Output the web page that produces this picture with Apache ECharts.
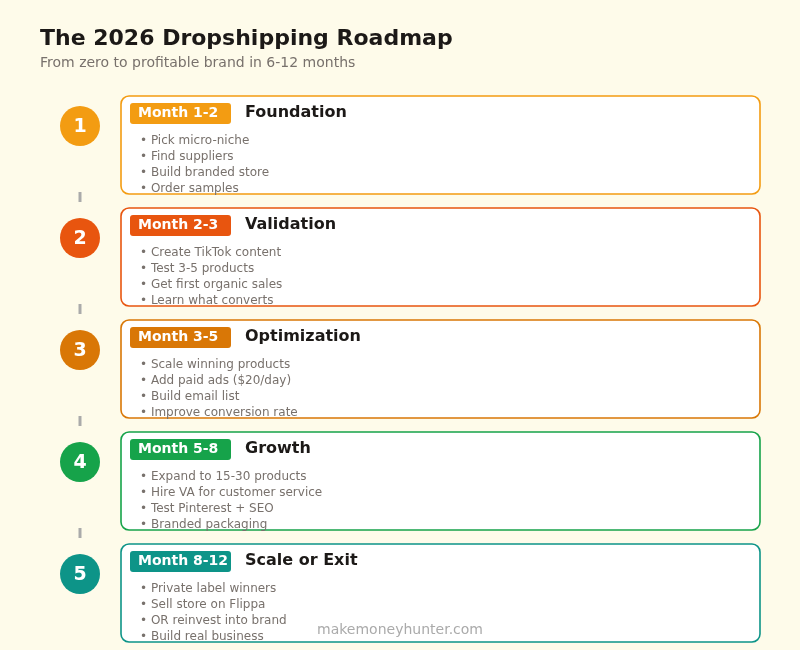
<!DOCTYPE html>
<html>
<head>
<meta charset="utf-8">
<script src="https://cdn.jsdelivr.net/npm/echarts@6/dist/echarts.min.js"></script>
<style>html,body{margin:0;padding:0;background:#fefbea}#main{width:800px;height:650px}</style>
</head>
<body>
<div id="main"></div>
<script>
var steps = ['1', '2', '3', '4', '5'];
var months = ['Month 1-2', 'Month 2-3', 'Month 3-5', 'Month 5-8', 'Month 8-12'];
var titles = ['Foundation', 'Validation', 'Optimization', 'Growth', 'Scale or Exit'];
var bullets = [
  ['Pick micro-niche', 'Find suppliers', 'Build branded store', 'Order samples'],
  ['Create TikTok content', 'Test 3-5 products', 'Get first organic sales', 'Learn what converts'],
  ['Scale winning products', 'Add paid ads ($20/day)', 'Build email list', 'Improve conversion rate'],
  ['Expand to 15-30 products', 'Hire VA for customer service', 'Test Pinterest + SEO', 'Branded packaging'],
  ['Private label winners', 'Sell store on Flippa', 'OR reinvest into brand', 'Build real business']
];
var colors = ['#f39c12', '#e8550f', '#d97706', '#16a34a', '#0d9488'];

var font = 'DejaVu Sans';
var myChart = echarts.init(document.getElementById('main'));
var els = [
  { type: 'text', x: 40, y: 39, style: { text: 'The 2026 Dropshipping Roadmap', font: 'bold 22px ' + font, fill: '#1c1917', verticalAlign: 'middle' } },
  { type: 'text', x: 40, y: 63, style: { text: 'From zero to profitable brand in 6-12 months', font: '14px ' + font, fill: '#78716c', verticalAlign: 'middle' } }
];
steps.forEach(function (s, i) {
  var y0 = 96 + i * 112;
  var c = colors[i];
  if (i > 0) {
    els.push({ type: 'line', shape: { x1: 80, y1: y0 - 16, x2: 80, y2: y0 - 6 }, style: { stroke: '#aaa', lineWidth: 3 } });
  }
  els.push({ type: 'circle', shape: { cx: 80, cy: y0 + 30, r: 20 }, style: { fill: c } });
  els.push({ type: 'text', x: 80, y: y0 + 31, style: { text: s, font: 'bold 19px ' + font, fill: '#fff', align: 'center', verticalAlign: 'middle' } });
  els.push({ type: 'rect', shape: { x: 121, y: y0, width: 639, height: 98, r: 8 }, style: { fill: '#fff', stroke: c, lineWidth: 1.6 } });
  els.push({ type: 'rect', shape: { x: 130, y: y0 + 7, width: 101, height: 21, r: 3 }, style: { fill: c } });
  els.push({ type: 'text', x: 138, y: y0 + 17, style: { text: months[i], font: 'bold 14px ' + font, fill: '#fff', verticalAlign: 'middle' } });
  els.push({ type: 'text', x: 245, y: y0 + 17, style: { text: titles[i], font: 'bold 16px ' + font, fill: '#1c1917', verticalAlign: 'middle' } });
  bullets[i].forEach(function (b, j) {
    els.push({ type: 'text', x: 140, y: y0 + 45 + j * 16, style: { text: '\u2022 ' + b, font: '12px ' + font, fill: '#78716c', verticalAlign: 'middle' } });
  });
});
els.push({ type: 'text', x: 400, y: 630, style: { text: 'makemoneyhunter.com', font: '14px ' + font, fill: '#aaa', align: 'center', verticalAlign: 'middle' } });

myChart.setOption({
  backgroundColor: '#fefbea',
  graphic: { elements: els }
});
</script>
</body>
</html>
